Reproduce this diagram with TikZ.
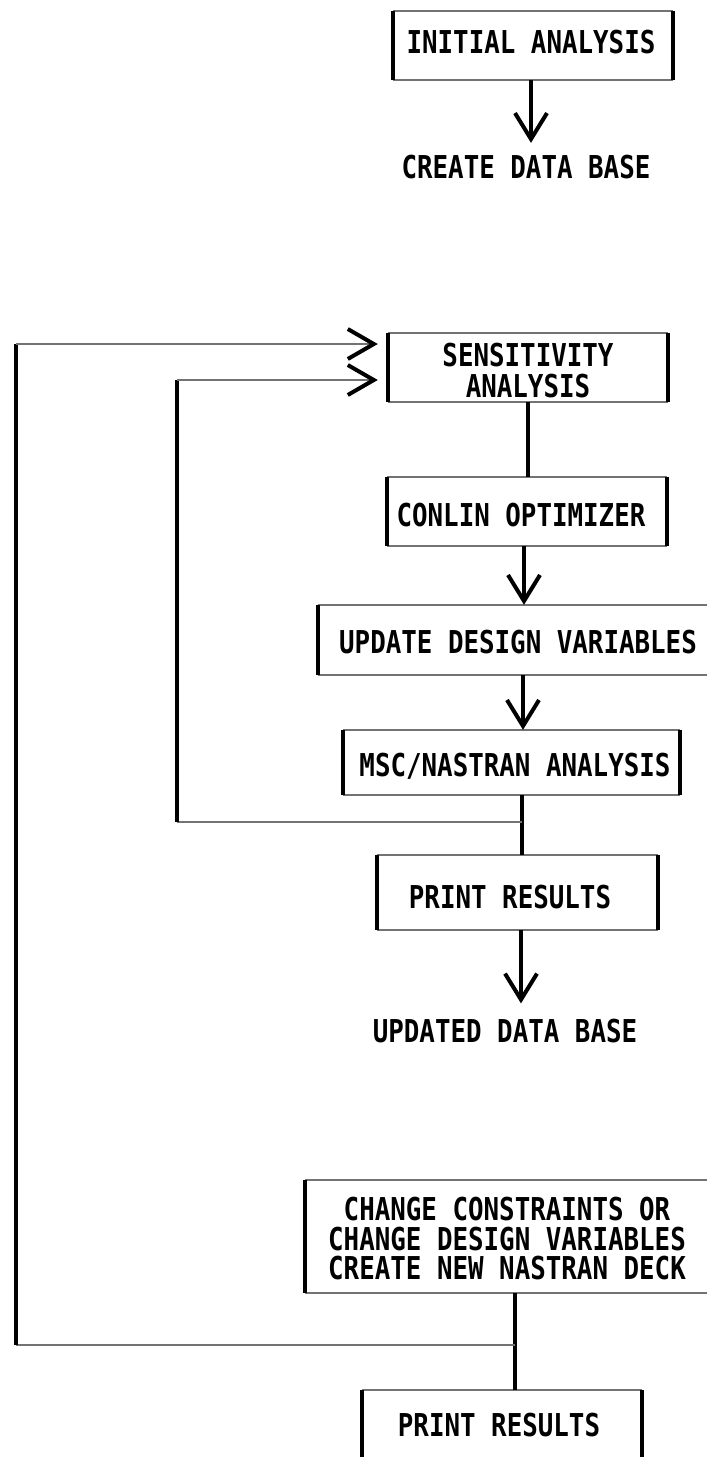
\documentclass[tikz,border=0pt]{standalone}
\usepackage{fontspec}
\newfontfamily\lbl[FakeStretch=0.82]{DejaVu Sans Mono Bold}
\usetikzlibrary{arrows.meta}
\tikzset{
  txt/.style={font=\lbl\fontsize{31.5}{31}\selectfont, align=center, inner sep=0pt},
  box/.style={txt, rectangle, minimum width=#1},
  hl/.style={draw=black!55, line width=2.2pt},
  vl/.style={draw=black, line width=4pt},
  va/.style={vl, -{Straight Barb[length=26pt,width=32pt,line width=4pt]}},
  ha/.style={hl, -{Straight Barb[length=26pt,width=30pt,line width=4pt,color=black]}, shorten >=10pt},
}
\begin{document}
\begin{tikzpicture}[x=1pt,y=-1pt]
\useasboundingbox (0,0) rectangle (707,1457);
\fill[white] (0,0) rectangle (707,1457);
% boxes
\node[box=280, minimum height=69] (b1) at (533,45.5) {};
\node[txt] at (531,42) {INITIAL ANALYSIS};
\node[txt, inner ysep=12pt] (create) at (526,167) {CREATE DATA BASE};
\node[box=280, minimum height=69] (b2) at (528,367.5) {};
\node[txt] at (528,371) {SENSITIVITY\\ANALYSIS};
\node[box=280, minimum height=69] (b3) at (527,511.5) {};
\node[txt] at (521,515) {CONLIN OPTIMIZER};
\node[box=410, minimum height=70] (b4) at (523,640) {};
\node[txt] at (518,642) {UPDATE DESIGN VARIABLES};
\node[box=337, minimum height=65] (b5) at (511.5,762.5) {};
\node[txt] at (515,766) {MSC/NASTRAN ANALYSIS};
\node[box=281, minimum height=75] (b6) at (517.5,892.5) {};
\node[txt] at (510,897) {PRINT RESULTS};
\node[txt, inner ysep=15.5pt] (upd) at (505,1031) {UPDATED DATA BASE};
\node[box=415, minimum height=113] (b7) at (512.5,1236.5) {};
\node[txt, font=\lbl\fontsize{31.5}{29.5}\selectfont] at (507,1239) {CHANGE CONSTRAINTS OR\\CHANGE DESIGN VARIABLES\\CREATE NEW NASTRAN DECK};
\node[box=280, minimum height=76] (b8) at (502,1428) {};
\node[txt] at (499,1425) {PRINT RESULTS};
% frames: thin grey top/bottom, heavy black sides
\foreach \n in {b1,b2,b3,b4,b5,b6,b7,b8}{
  \draw[hl] (\n.north west) -- (\n.north east);
  \draw[hl] (\n.south west) -- (\n.south east);
  \draw[vl] (\n.north west) -- (\n.south west);
  \draw[vl] (\n.north east) -- (\n.south east);
}
% main column connectors
\draw[va] (b1.south -| 531,0) -- (create.north -| 531,0);
\draw[vl] (b2.south -| 528,0) -- (b3.north -| 528,0);
\draw[va] (b3.south -| 524,0) -- (b4.north -| 524,0);
\draw[va] (b4.south -| 523,0) -- (b5.north -| 523,0);
\draw[vl] (b5.south -| 522,0) -- (b6.north -| 522,0);
\draw[va] (b6.south -| 521,0) -- (upd.north -| 521,0);
\draw[vl] (b7.south -| 515,0) -- (b8.north -| 515,0);
% inner loop
\coordinate (j1) at (522,822);
\coordinate (c1) at (177,822);
\coordinate (c2) at (177,380);
\draw[hl] (j1) -- (c1);
\draw[vl] (c1) -- (c2);
\draw[ha] (c2) -- (b2.west |- c2);
% outer loop
\coordinate (j2) at (515,1345);
\coordinate (d1) at (16,1345);
\coordinate (d2) at (16,344);
\draw[hl] (j2) -- (d1);
\draw[vl] (d1) -- (d2);
\draw[ha] (d2) -- (b2.west |- d2);
\end{tikzpicture}
\end{document}
